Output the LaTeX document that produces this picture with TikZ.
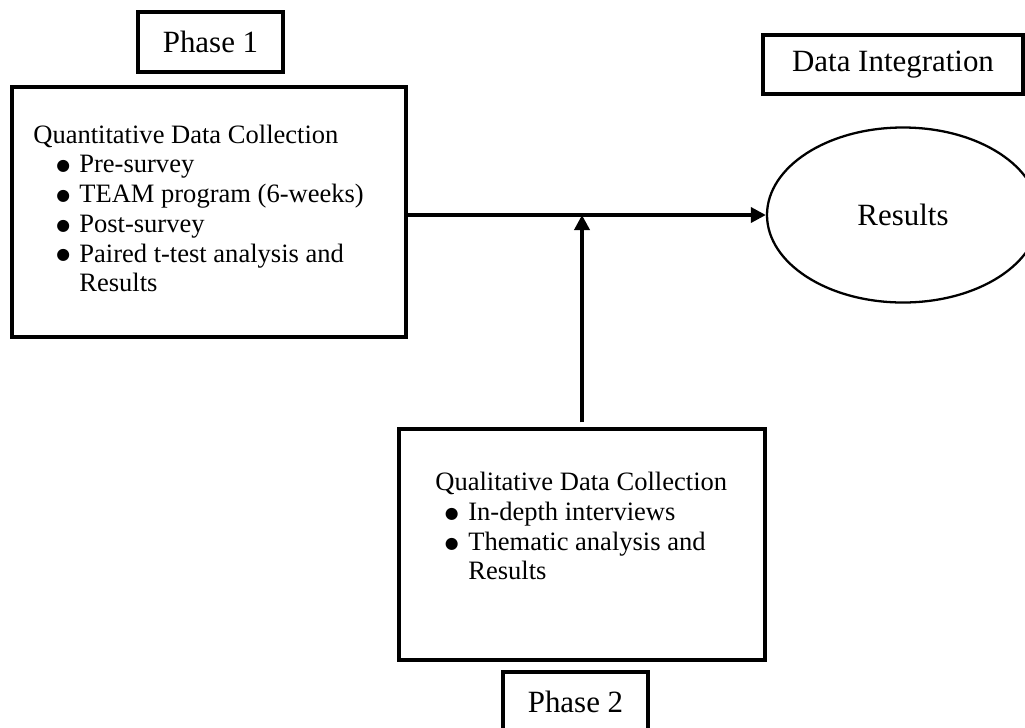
\documentclass[tikz,border=0pt]{standalone}
\usepackage{fontspec}
\setmainfont{Liberation Serif}
\newfontfamily\symfont{DejaVu Sans}
\usetikzlibrary{shapes.geometric, arrows.meta, positioning, calc}
\newcommand{\bigbul}{\raisebox{1.2pt}{\symfont\fontsize{9}{9}\selectfont ●}}

\begin{document}
\begin{tikzpicture}[
    every node/.style={font=\fontsize{15.1}{16.9}\selectfont},
    blk/.style={draw, line width=2pt, inner sep=0pt},
    tag/.style={draw, line width=1.8pt, minimum width=2.9cm, minimum height=1.2cm,
                font=\fontsize{17.6}{20}\selectfont},
    txt/.style={align=left, inner sep=0pt, anchor=north west},
    arr/.style={-{Triangle[length=3mm, width=3mm]}, line width=2pt}
]
    \useasboundingbox (0,0) rectangle (20.5,-14.54);
    \clip (0,0) rectangle (20.5,-14.54);

    % ===== Phase labels =====
    \node[tag] (ph1) at (4.21,-0.84) {Phase 1};
    \node[tag, minimum width=5.2cm, minimum height=1.18cm] (integ) at (17.86,-1.29) {Data Integration};
    \node[tag] (ph2) at (11.51,-14.04) {Phase 2};

    % ===== Phase 1 (quantitative) =====
    \node[blk, minimum width=7.88cm, minimum height=5cm] (quant) at (4.18,-4.24) {};
    \node[txt] (quanttxt) at (0.66,-2.49) {Quantitative Data Collection\\
        \hspace*{4.6mm}\makebox[4.6mm][l]{\bigbul}Pre-survey\\
        \hspace*{4.6mm}\makebox[4.6mm][l]{\bigbul}TEAM program (6-weeks)\\
        \hspace*{4.6mm}\makebox[4.6mm][l]{\bigbul}Post-survey\\
        \hspace*{4.6mm}\makebox[4.6mm][l]{\bigbul}Paired t-test analysis and\\
        \hspace*{9.2mm}Results};

    % ===== Phase 2 (qualitative) =====
    \node[blk, minimum width=7.32cm, minimum height=4.62cm] (qual) at (11.64,-10.89) {};
    \node[txt] (qualtxt) at (8.70,-9.44) {Qualitative Data Collection\\
        \hspace*{1.9mm}\makebox[4.7mm][l]{\bigbul}In-depth interviews\\
        \hspace*{1.9mm}\makebox[4.7mm][l]{\bigbul}Thematic analysis and\\
        \hspace*{6.6mm}Results};

    % ===== Integration =====
    \node[draw, ellipse, line width=1.3pt, minimum width=5.44cm, minimum height=3.5cm,
          font=\fontsize{17.6}{20}\selectfont] (res) at (18.06,-4.3) {Results};

    \draw[arr] (quant.east |- res.west) -- (res.west);
    \draw[arr, shorten <=1mm] (qual.north) -- (qual.north |- res.west);
\end{tikzpicture}
\end{document}
